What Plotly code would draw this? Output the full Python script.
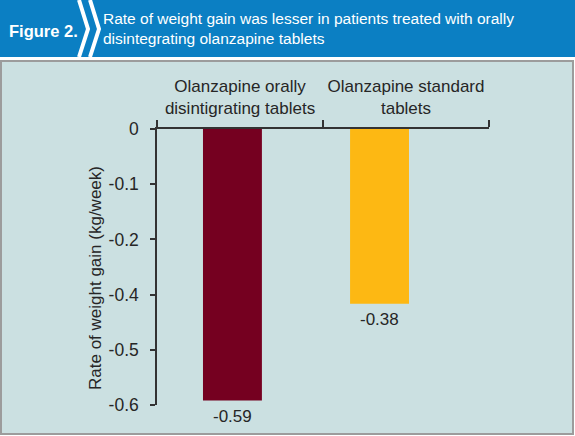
import plotly.graph_objects as go
import numpy as np

# ---- data ----
categories = ["Olanzapine orally<br>disintigrating tablets", "Olanzapine standard<br>tablets"]
values = [-0.59, -0.38]
value_labels = ["-0.59", "-0.38"]
bar_colors = ["#750020", "#FDB813"]
ytick_labels = ["0", "-0.1", "-0.2", "-0.4", "-0.5", "-0.6"]
title_line1 = "Rate of weight gain was lesser in patients treated with orally"
title_line2 = "disintegrating olanzapine tablets"
fig_label = "Figure 2."
y_title = "Rate of weight gain (kg/week)"

W, H = 575, 436
L, R, T, B = 157, 86, 129, 31
PW, PH = W - L - R, H - T - B

def px(x):
    return (x - L) / PW

def py(y):
    return 1 - (y - T) / PH

FONT = "Liberation Sans, Arial, sans-serif"
DARK = "#262626"
FS = 17

bar_width = [0.355, 0.355]
bar_offset = [-0.223, -0.337]

y_min, y_max = -0.6, 0.0
tickvals = list(np.linspace(y_max, y_min, len(ytick_labels)))

fig = go.Figure()
fig.add_trace(go.Bar(
    x=categories, y=values,
    marker=dict(color=bar_colors, line=dict(width=0)),
    width=bar_width, offset=bar_offset,
    hoverinfo="skip",
))

shapes = [
    dict(type="rect", xref="paper", yref="paper", x0=px(0), x1=px(W), y0=py(57), y1=py(0),
         fillcolor="#0B7FC3", line=dict(width=0), layer="below"),
    dict(type="rect", xref="paper", yref="paper", x0=px(1), x1=px(W - 2), y0=py(H - 2), y1=py(61),
         fillcolor="#CBE0E1", line=dict(color="#9C9C9C", width=2), layer="below"),
    dict(type="path", xref="paper", yref="paper",
         path=f"M {px(79)},{py(0)} L {px(88)},{py(29)} L {px(79)},{py(57)}",
         line=dict(color="white", width=4), layer="below"),
    dict(type="path", xref="paper", yref="paper",
         path=f"M {px(90)},{py(0)} L {px(99)},{py(29)} L {px(90)},{py(57)}",
         line=dict(color="white", width=4), layer="below"),
]

annotations = [
    dict(text=f"<b>{fig_label}</b>", xref="paper", yref="paper", x=px(7), y=py(31),
         xanchor="left", yanchor="middle", showarrow=False,
         font=dict(family=FONT, size=16.5, color="white")),
    dict(text=f"{title_line1}<br>{title_line2}", xref="paper", yref="paper", x=px(101), y=py(29),
         xanchor="left", yanchor="middle", showarrow=False, align="left",
         font=dict(family=FONT, size=15.5, color="white")),
    dict(text=y_title, xref="paper", yref="paper", x=px(95), y=py(278), textangle=-90,
         xanchor="center", yanchor="middle", showarrow=False,
         font=dict(family=FONT, size=17, color=DARK)),
]
# value labels under each bar, placed from the data
for i, (v, lab) in enumerate(zip(values, value_labels)):
    annotations.append(dict(
        text=lab, xref="x", yref="y", x=i + bar_offset[i] + bar_width[i] / 2, y=v,
        xanchor="center", yanchor="middle", yshift=-16, showarrow=False,
        font=dict(family=FONT, size=FS, color=DARK)))

fig.update_layout(
    width=W, height=H,
    margin=dict(l=L, r=R, t=T, b=B, autoexpand=False),
    paper_bgcolor="white", plot_bgcolor="rgba(0,0,0,0)",
    showlegend=False,
    shapes=shapes, annotations=annotations,
    xaxis=dict(side="top", showline=True, linecolor="#333333", linewidth=1.5,
               ticks="outside", tickson="boundaries", ticklen=7, tickcolor="#333333", tickwidth=1.5,
               tickfont=dict(family=FONT, size=FS, color=DARK), showgrid=False, tickangle=0,
               automargin=False, range=[-0.5, 1.5], ticklabelstandoff=6, fixedrange=True),
    yaxis=dict(range=[y_min, y_max], showline=True, linecolor="#333333", linewidth=1.5,
               ticks="outside", ticklen=5, tickcolor="#333333", tickwidth=1.5,
               tickvals=tickvals, ticktext=ytick_labels, showgrid=False, zeroline=False,
               automargin=False,
               tickfont=dict(family=FONT, size=17.5, color=DARK), ticklabelstandoff=8),
)

fig.write_html("out.html")
